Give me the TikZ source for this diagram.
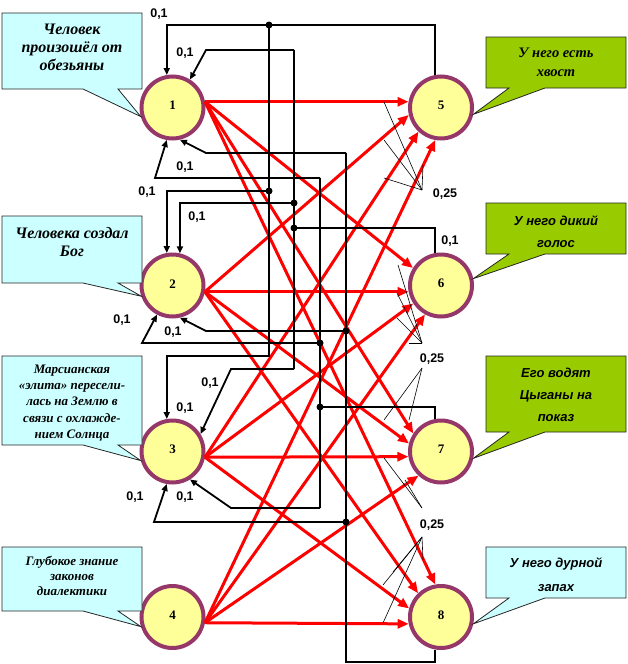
\documentclass[tikz,border=0pt]{standalone}
\usepackage{fontspec}
\setmainfont{Liberation Serif}
\setsansfont{Liberation Sans}
\usetikzlibrary{arrows.meta}

\definecolor{ringcol}{RGB}{150,55,105}
\definecolor{discfill}{RGB}{255,255,153}
\definecolor{boxcyan}{RGB}{204,255,255}
\definecolor{boxgreen}{RGB}{153,204,0}

\tikzset{
  disc/.style={circle, draw=ringcol, fill=discfill, line width=4pt,
    minimum size=62pt, inner sep=0pt, font=\bfseries\fontsize{13}{13}\selectfont},
  link/.style={draw=red, line width=3pt, -{Triangle[length=11pt,width=9pt]}},
  wire/.style={draw=black, line width=1.8pt},
  back/.style={wire, -{Triangle[length=7pt,width=6pt]}},
  weight/.style={font=\sffamily\bfseries\fontsize{12.5}{12.5}\selectfont, inner sep=0pt},
  lead/.style={draw=black, line width=0.6pt},
  callbox/.style={draw=black!85, line width=0.8pt},
  calltext/.style={align=center, inner sep=0pt, font=\bfseries\itshape\fontsize{16}{18}\selectfont},
  sanstext/.style={align=center, inner sep=0pt, font=\sffamily\bfseries\itshape\fontsize{13}{22}\selectfont},
}

\begin{document}
\begin{tikzpicture}[x=1pt, y=-1pt]
\useasboundingbox (0,0) rectangle (628,664);

% the eight circles
\node[disc] (n1) at (172.5,107.5) {\raisebox{4pt}{1}};
\node[disc] (n2) at (172.5,285.5) {\raisebox{2pt}{2}};
\node[disc] (n3) at (172.5,451.5) {\raisebox{4pt}{3}};
\node[disc] (n4) at (172.5,617) {\raisebox{4pt}{4}};
\node[disc] (n5) at (441,107.5) {\raisebox{4pt}{5}};
\node[disc] (n6) at (441,285.5) {\raisebox{4pt}{6}};
\node[disc] (n7) at (441,451.5) {\raisebox{4pt}{7}};
\node[disc] (n8) at (441,617) {\raisebox{4pt}{8}};

% callouts on the left
\draw[callbox, fill=boxcyan] (2,13) -- (142,13) -- (142,89) -- (118,89) -- (n1.196) -- (83,89) -- (2,89) -- cycle;
\draw[callbox, fill=boxcyan] (2,216) -- (142,216) -- (142,283) -- (118,283) -- (n2.199) -- (83,283) -- (2,283) -- cycle;
\draw[callbox, fill=boxcyan] (2,356) -- (142,356) -- (142,445) -- (118,445) -- (n3.196) -- (83,445) -- (2,445) -- cycle;
\draw[callbox, fill=boxcyan] (2,547) -- (142,547) -- (142,611) -- (118,611) -- (n4.197) -- (83,611) -- (2,611) -- cycle;
% callouts on the right
\draw[callbox, fill=boxgreen] (486,37) -- (626,37) -- (626,88) -- (545,88) -- (n5.-12) -- (509,88) -- (486,88) -- cycle;
\draw[callbox, fill=boxgreen] (486,203) -- (626,203) -- (626,254) -- (545,254) -- (n6.12) -- (509,254) -- (486,254) -- cycle;
\draw[callbox, fill=boxgreen] (486,356) -- (626,356) -- (626,432) -- (545,432) -- (n7.-12) -- (509,432) -- (486,432) -- cycle;
\draw[callbox, fill=boxcyan] (486,547) -- (626,547) -- (626,598) -- (545,598) -- (n8.-12) -- (509,598) -- (486,598) -- cycle;

\node[calltext] (t1) at (72,47) {Человек\\произошёл от\\обезьяны};
\node[calltext] (t2) at (72,242) {Человека создал\\Бог};
\node[calltext, font=\bfseries\itshape\fontsize{13}{16.3}\selectfont] (t3) at (72,403) {Марсианская\\«элита» пересели-\\лась на Землю в\\связи с охлажде-\\нием Солнца};
\node[calltext, font=\bfseries\itshape\fontsize{13}{15}\selectfont] (t4) at (72,576) {Глубокое знание\\законов\\диалектики};
\node[calltext, font=\bfseries\itshape\fontsize{14.5}{19}\selectfont] (t5) at (556,62) {У него есть\\хвост};
\node[sanstext] (t6) at (556,232) {У него дикий\\голос};
\node[sanstext] (t7) at (556,395) {Его водят\\Цыганы на\\показ};
\node[sanstext, font=\sffamily\bfseries\itshape\fontsize{13}{24}\selectfont] (t8) at (556,575) {У него дурной\\запах};

% red links, every left circle to every right circle
\draw[link] (n1.10) -- (n5.170);
\draw[link] (n1.10) -- (n6.148);
\draw[link] (n1.10) -- (n7.147);
\draw[link] (n1.10) -- (n8.100);
\draw[link] (n2.-11) -- (n5.193);
\draw[link] (n2.-11) -- (n6.191);
\draw[link] (n2.-11) -- (n7.166);
\draw[link] (n2.-11) -- (n8.134);
\draw[link] (n3.-10) -- (n5.227);
\draw[link] (n3.-10) -- (n6.213);
\draw[link] (n3.-10) -- (n7.189);
\draw[link] (n3.-10) -- (n8.165);
\draw[link] (n4.-10) -- (n5.260);
\draw[link] (n4.-10) -- (n6.241);
\draw[link] (n4.-10) -- (n7.227);
\draw[link] (n4.-10) -- (n8.192);

% junctions and corners of the black feedback wires
\coordinate (j1) at (269,25);
\coordinate (j2) at (269,191);
\coordinate (j3) at (294,203);
\coordinate (j4) at (294,228);
\coordinate (j6) at (320,343);
\coordinate (j7) at (320,407);
\coordinate (j8) at (346,331);
\coordinate (j9) at (346,522);
\coordinate (c1) at (269,356);
\coordinate (c2) at (294,50);
\coordinate (c3) at (294,369);
\coordinate (c4) at (206,50);
\coordinate (c5) at (231,369);
\coordinate (c6) at (320,178);
\coordinate (c7) at (320,508);
\coordinate (c8) at (155,178);
\coordinate (c9) at (142,343);
\coordinate (c10) at (231,508);
\coordinate (c11) at (346,662);
\coordinate (c12) at (346,153);
\coordinate (c13) at (206,153);
\coordinate (c14) at (206,331);
\coordinate (c15) at (154,522);

% wires from circle 5
\draw[wire] (n5.100) |- (j1);
\draw[back] (j1) -| (n1.100);
\draw[back] (j2) -| (n2.100);
\draw[back] (j1) -- (c1) -| (n3.100);
% wires from circle 6
\draw[wire] (n6.100) |- (j4);
\draw[wire] (c2) -- (c3);
\draw[back] (c2) -- (c4) -- (n1.58);
\draw[back] (j3) -| (n2.77);
\draw[back] (c3) -- (c5) -- (n3.32);
% wires from circle 7
\draw[wire] (n7.100) |- (j7);
\draw[wire] (c6) -- (c7);
\draw[back] (c6) -- (c8) -- (n1.-100);
\draw[back] (j6) -- (c9) -- (n2.-118);
\draw[back] (c7) -- (c10) -- (n3.-58);
% wires from circle 8
\draw[wire] (n8.-100) |- (c11) -- (c12);
\draw[back] (c12) -- (c13) -- (n1.-77);
\draw[back] (j8) -- (c14) -- (n2.-77);
\draw[back] (j9) -- (c15) -- (n3.-100);

\foreach \j in {j1,j2,j3,j4,j6,j7,j8,j9}
  \fill (\j) circle (3.5pt);

% weights 0,1
\foreach \x/\y [count=\i] in {159/14, 185/53, 185/167, 147/192, 197/217, 122/320,
    173/332, 210/383, 185/408, 135/497, 185/497, 450/241}
  \node[weight] (w\i) at (\x,\y) {0,1};

% weights 0,25 with their leader lines
\node[weight] (q1) at (445,194) {0,25};
\node[weight] (q2) at (432,359) {0,25};
\node[weight] (q3) at (432,525) {0,25};
\coordinate (f1) at (422,190);
\coordinate (f2) at (422,343);
\coordinate (f3) at (422,368);
\coordinate (f4) at (422,508);
\coordinate (f5) at (422,537);
\foreach \x/\y in {384/102, 384/140, 384/178, 423/165}
  \draw[lead] (f1) -- (\x,\y);
\foreach \x/\y in {398/265, 397/293, 397/318, 409/343}
  \draw[lead] (f2) -- (\x,\y);
\foreach \x/\y in {384/420, 409/420}
  \draw[lead] (f3) -- (\x,\y);
\foreach \x/\y in {384/458, 405/480}
  \draw[lead] (f4) -- (\x,\y);
\foreach \x/\y in {383/585, 393/572, 383/623, 423/560}
  \draw[lead] (f5) -- (\x,\y);
\end{tikzpicture}
\end{document}
